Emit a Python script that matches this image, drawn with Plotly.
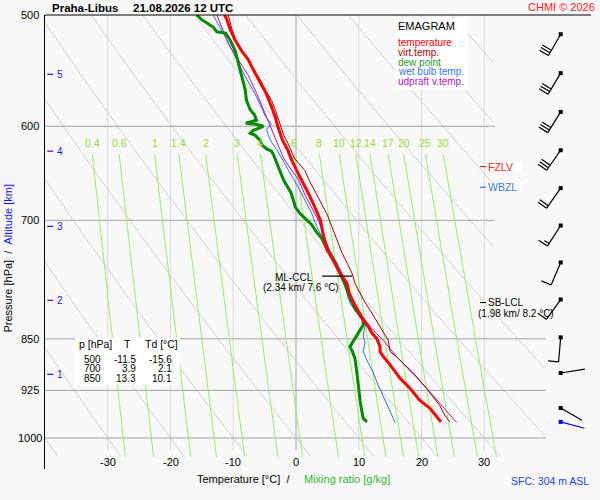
import numpy as np
import plotly.graph_objects as go

# ---------------- data ----------------
STATION = "Praha-Libus"
DATE_STR = "21.08.2026 12 UTC"

TEMP_P = [500, 504, 512, 521, 530, 538, 547, 558, 568, 578, 591, 600, 613, 624, 634, 645, 655,
          666, 681, 700, 719, 735, 747, 763, 776, 789, 800, 811, 824, 833, 842, 850, 861, 868,
          875, 887, 907, 922, 940, 952, 970, 974]
TEMP_C = [-11.4, -11.0, -10.5, -9.7, -8.7, -7.6, -6.8, -5.7, -4.8, -4.1, -3.3, -2.9, -2.2, -1.3,
          -0.7, 0.1, 0.9, 1.7, 2.75, 3.9, 4.4, 5.0, 5.9, 7.0, 8.1, 8.5, 9.1, 9.9, 10.7, 11.5,
          12.1, 12.9, 13.4, 13.4, 13.9, 15.0, 16.6, 18.2, 19.7, 21.3, 22.9, 23.1]

VIRT_P = [500, 512, 524, 535, 545, 556, 565, 575, 584, 598, 608, 618, 632, 645, 657, 671, 681,
          694, 707, 722, 738, 750, 763, 776, 789, 798, 811, 826, 839, 852, 868, 875, 890, 905,
          922, 936, 948, 963, 974]
VIRT_C = [-10.8, -10.2, -9.4, -8.1, -7.0, -5.7, -4.9, -3.9, -3.3, -2.5, -2.0, -1.2, -0.3, 1.4,
          2.2, 3.3, 4.1, 5.0, 5.7, 6.5, 7.3, 8.1, 8.9, 9.4, 10.2, 10.8, 11.8, 12.9, 13.9, 14.7,
          15.0, 16.0, 17.6, 19.2, 20.8, 21.9, 22.9, 23.7, 24.5]

DEW_P = [500, 504, 510, 514, 515, 521, 530, 541, 553, 565, 575, 584, 589, 594, 597, 598, 600,
         604, 607, 609, 614, 619, 623, 625, 630, 635, 646, 655, 661, 669, 678, 685, 692, 700,
         705, 714, 721, 735, 739, 750, 763, 776, 795, 809, 818, 824, 831, 838, 845, 852, 861,
         868, 878, 898, 917, 940, 957, 968, 974]
DEW_C = [-15.8, -15.0, -13.2, -12.6, -11.2, -10.5, -9.7, -9.2, -8.7, -8.1, -7.9, -7.3, -6.6,
         -6.3, -8.0, -6.3, -5.2, -6.8, -7.3, -6.5, -5.7, -5.4, -4.6, -3.9, -3.5, -3.2, -2.6,
         -2.0, -1.5, -0.8, -0.4, -0.1, 0.6, 1.7, 2.5, 3.3, 4.1, 5.0, 5.4, 6.2, 7.0, 7.8, 8.6,
         9.4, 10.2, 10.7, 10.7, 10.2, 9.7, 9.1, 8.6, 9.0, 9.4, 9.7, 9.9, 10.2, 10.5, 10.7, 11.3]

WETB_P = [500, 510, 521, 532, 544, 556, 568, 580, 590, 598, 603, 609, 616, 623, 632, 641, 651,
          666, 681, 692, 707, 719, 729, 739, 750, 763, 781, 795, 803, 816, 826, 833, 846, 855,
          868, 884, 898, 917, 940, 955, 968, 975]
WETB_C = [-13.2, -12.1, -11.0, -10.0, -8.9, -7.8, -6.6, -5.7, -4.9, -3.9, -4.7, -4.4, -3.9,
          -3.1, -2.3, -1.6, -0.7, 0.6, 1.7, 2.5, 3.3, 4.1, 4.9, 5.7, 6.5, 7.3, 7.8, 8.3, 8.7,
          9.9, 10.7, 11.0, 10.7, 11.0, 10.7, 11.5, 12.3, 13.1, 14.2, 15.0, 15.5, 15.8]

UPD_P = [500, 524, 538, 552, 568, 584, 600, 616, 632, 641, 655, 671, 685, 700, 715, 729, 743,
         757, 772, 786, 797, 818, 835, 852, 875, 899, 927, 953, 975]
UPD_C = [-12.6, -10.8, -9.2, -7.6, -6.3, -5.2, -4.1, -3.1, -2.0, -1.1, 0.4, 1.4, 2.5, 3.55,
         4.35, 5.0, 5.7, 6.5, 7.3, 8.1, 8.9, 10.5, 12.0, 13.9, 16.0, 18.7, 21.3, 23.7, 25.6]

WIND_P = [516, 550, 586, 624, 664, 706, 750, 797, 848, 899, 952]
WIND_DIR = [210, 211, 212, 215, 215, 213, 203, 216, 185, 81, 120]
WIND_KT = [30, 30, 30, 30, 20, 15, 10, 10, 10, 2, 3]
SFC_WIND_P = [974]
SFC_WIND_DIR = [105]
SFC_WIND_KT = [3]

P_TICKS = [500, 600, 700, 850, 925, 1000]
P_LEVELS = [600, 700, 850, 925, 1000]
T_TICKS = [-30, -20, -10, 0, 10, 20, 30]
ISOTHERMS = [-30, -20, -10, 0, 10, 20, 30]
DRY_ADIABATS_C = list(range(-40, 130, 10))
MIX_RATIOS = [0.4, 0.6, 1, 1.4, 2, 3, 4, 6, 8, 10, 12, 14, 17, 20, 25, 30]
MIX_LABELS = ["0.4", "0.6", "1", "1.4", "2", "3", "4", "6", "8", "10", "12", "14", "17",
              "20", "25", "30"]
ALT_KM = [1, 2, 3, 4, 5]
ALT_P = [901, 798, 707, 625, 551]

TABLE_P = [500, 700, 850]
TABLE_T = [-11.5, 3.9, 13.3]
TABLE_TD = [-15.6, 2.1, 10.1]

FZLV_P = 641
WBZL_P = 663
CCL_P = 767
CCL_KM, CCL_T = 2.34, 7.6
SBLCL_P = 801
SBLCL_KM, SBLCL_T = 1.98, 8.2
SFC_M = 304

LEGEND_NAMES = ["temperature", "virt.temp.", "dew point", "wet bulb temp.", "udpraft v.temp."]

# ---------------- styling / geometry ----------------
FONT = "Arial, Liberation Sans, sans-serif"
BG = "#f8f8f8"
C_T = "#ff0000"
C_TV = "#a00000"
C_TD = "#008a00"
C_TW = "#2f6fe8"
C_UP = "#a818b8"
C_ALT = "#1515ee"
C_MIX = "#99ee66"
C_MIXLAB = "#9ad83a"
LEGEND_COLORS = [C_T, C_TV, "#1e9a1e", "#3377ee", C_UP]

W, H = 600, 500
ML, MR, MT, MB = 45, 9, 15, 31
PW, PH = W - ML - MR, H - MT - MB
T_MIN = -40.0
PX_PER_DEG = 6.275
T_MAX = T_MIN + PW / PX_PER_DEG
P_TOP = 500.0
PX_PER_DEC = 423 / np.log10(2.0)
P_BOT = P_TOP * 10 ** (PH / PX_PER_DEC)


def T2px(t):
    return ML + (t - T_MIN) * PX_PER_DEG


def px2T(x):
    return T_MIN + (x - ML) / PX_PER_DEG


def p2py(p):
    return MT + np.log10(p / P_TOP) * PX_PER_DEC


def py2p(y):
    return P_TOP * 10 ** ((y - MT) / PX_PER_DEC)


def xp(x):
    return (x - ML) / PW


def yp(y):
    return (H - MB - y) / PH


def t_clip(p):
    return 31.7 if p < 812 else 39.8


def td_from_w(w, p):
    e = w * p / (622.0 + w)
    l = np.log(e / 6.112)
    return 243.5 * l / (17.67 - l)


fig = go.Figure()


def line(x, y, color, width=1.0, **kw):
    fig.add_trace(go.Scatter(x=x, y=y, mode="lines", line=dict(color=color, width=width),
                             hoverinfo="skip", showlegend=False, **kw))


# ---- background grid ----
for t in ISOTHERMS:
    line([t, t], [P_TOP, 1020], "#a3a3a3" if t == 0 else "#d9d9d9", 1)

pp = np.arange(500.0, 1031.0, 2.0)
for th in DRY_ADIABATS_C:
    tt = (th + 273.15) * (pp / 1000.0) ** 0.2857 - 273.15
    xs = [float(a) if (a <= t_clip(b) and a >= T_MIN - 2) else None for a, b in zip(tt, pp)]
    line(xs, list(pp), "#d2d2d2", 1)

for p in P_LEVELS:
    line([T_MIN, t_clip(p)], [p, p], "#a3a3a3", 1)

pm = np.linspace(628.0, 1031.0, 40)
for w in MIX_RATIOS:
    line([float(td_from_w(w, p)) for p in pm], list(pm), C_MIX, 1)

# ---- profiles ----
line(WETB_C, WETB_P, C_TW, 1)
line(UPD_C, UPD_P, C_UP, 1)
line(VIRT_C, VIRT_P, C_TV, 1)
line(DEW_C, DEW_P, C_TD, 3)
line(TEMP_C, TEMP_P, C_T, 3)

# ---- altitude ticks ----
for p in ALT_P:
    line([px2T(47.3), px2T(53.3)], [p, p], C_ALT, 1.2)

# ---- level markers ----
line([px2T(480), px2T(486)], [FZLV_P, FZLV_P], "#ff2020", 1.2)
line([px2T(480), px2T(486)], [WBZL_P, WBZL_P], "#3377ee", 1.2)
line([px2T(480), px2T(486)], [SBLCL_P, SBLCL_P], "black", 1)
line([px2T(322), px2T(352)], [CCL_P, CCL_P], "black", 1.2)

# ---- wind barbs ----
BARB_X = 560.7
SHAFT = 24.5
FULL, HALF, STEP = 10.5, 5.5, 3.0


def barbs(plist, dlist, slist, color):
    xs, ys, dx, dy = [], [], [], []
    for p, d, s in zip(plist, dlist, slist):
        ax, ay = BARB_X, p2py(p)
        ux, uy = np.sin(np.radians(d)), -np.cos(np.radians(d))
        bx, by = -uy, ux
        ex, ey = ax + SHAFT * ux, ay + SHAFT * uy
        segs = [((ax, ay), (ex, ey))]
        nfull = int(s // 10)
        half = (s % 10) >= 5
        k = 0
        for i in range(nfull):
            sx, sy = ex - k * STEP * ux, ey - k * STEP * uy
            segs.append(((sx, sy), (sx + FULL * bx, sy + FULL * by)))
            k += 1
        if half:
            sx, sy = ex - k * STEP * ux, ey - k * STEP * uy
            segs.append(((sx, sy), (sx + HALF * bx, sy + HALF * by)))
        for (x0, y0), (x1, y1) in segs:
            xs += [px2T(x0), px2T(x1), None]
            ys += [py2p(y0), py2p(y1), None]
        dx.append(px2T(ax))
        dy.append(p)
    line(xs, ys, color, 1.2)
    fig.add_trace(go.Scatter(x=dx, y=dy, mode="markers",
                             marker=dict(symbol="square", size=4, color=color),
                             hoverinfo="skip", showlegend=False))


barbs(WIND_P, WIND_DIR, WIND_KT, "black")
barbs(SFC_WIND_P, SFC_WIND_DIR, SFC_WIND_KT, "#0000ee")

# ---- annotations ----


def ann(x, y, text, size=11, color="black", xa="center", ya="middle", xref="paper",
        yref="paper", **kw):
    fig.add_annotation(x=x, y=y, xref=xref, yref=yref, text=text, showarrow=False,
                       font=dict(family=FONT, size=size, color=color), xanchor=xa,
                       yanchor=ya, borderpad=0, **kw)


ann(xp(50.5), yp(7.5), "<b>%s</b>" % STATION, 11.5, xa="left")
ann(xp(131.5), yp(7.5), "<b>%s</b>" % DATE_STR, 11.5, xa="left")
ann(xp(596), yp(7), "CHMI © 2026", 11, "#ff2020", xa="right")

for p in P_TICKS:
    ann(xp(30), np.log10(p), str(p), 11, yref="y")
for t in T_TICKS:
    ann(t, yp(462), str(t), 11, xref="x")
for km, p in zip(ALT_KM, ALT_P):
    ann(xp(59.5), np.log10(p), str(km), 10, C_ALT, yref="y")

for w, lab in zip(MIX_RATIOS, MIX_LABELS):
    ann(float(td_from_w(w, 628.0)), np.log10(py2p(143)), lab, 10.5, C_MIXLAB,
        xref="x", yref="y")

ann(xp(8), yp(258.6),
    "Pressure [hPa]\u00a0\u00a0/\u00a0\u00a0<span style='color:%s'>Altitude [km]</span>" % C_ALT,
    11, textangle=-90)
ann(xp(291), yp(479.5), "Temperature [°C]\u00a0\u00a0/", 11, xa="right")
ann(xp(302.5), yp(479.5), "Mixing ratio [g/kg]", 11, "#33b533", xa="left")
ann(xp(589.5), yp(481), "SFC: %d m ASL" % SFC_M, 10.5, "#2040e0", xa="right")

# legend box content
ann(xp(397.3), yp(26), "EMAGRAM", 11, xa="left")
for i, (name, col) in enumerate(zip(LEGEND_NAMES, LEGEND_COLORS)):
    ann(xp(397.3), yp(42.3 + 9.9 * i), name, 10, col, xa="left")

# table
ann(xp(78.3), yp(344), "p [hPa]", 10.5, xa="left")
ann(xp(127.7), yp(344), "T", 10.5)
ann(xp(144), yp(344), "Td [°C]", 10.5, xa="left")
for i, (p, t, td) in enumerate(zip(TABLE_P, TABLE_T, TABLE_TD)):
    y = 359 + 9.7 * i
    ann(xp(101.7), yp(y), str(p), 10, xa="right")
    ann(xp(137.3), yp(y), "%.1f" % t, 10, xa="right")
    ann(xp(173.3), yp(y), "%.1f" % td, 10, xa="right")

# level labels
ann(xp(487.3), np.log10(FZLV_P), "FZLV", 10.5, "#ff2020", xa="left", yref="y")
ann(xp(487.3), np.log10(WBZL_P), "WBZL", 10.5, "#3377ee", xa="left", yref="y")
ann(xp(313.5), yp(277.3), "ML-CCL", 10, xa="right")
ann(xp(301), yp(287.5), "(%.2f km/ %.1f °C)" % (CCL_KM, CCL_T), 10)
ann(xp(487.3), np.log10(SBLCL_P), "SB-LCL", 10, xa="left", yref="y")
ann(xp(516), yp(313.5), "(%.2f km/ %.1f °C)" % (SBLCL_KM, SBLCL_T), 10)

# ---- shapes: frame and white boxes ----
shapes = [
    dict(type="line", xref="paper", yref="paper", x0=0, x1=1, y0=1, y1=1,
         line=dict(color="black", width=1), layer="above"),
    dict(type="rect", xref="paper", yref="paper", x0=xp(395), x1=xp(468), y0=yp(90),
         y1=yp(18), fillcolor="white", line=dict(width=0), layer="above"),
    dict(type="rect", xref="paper", yref="paper", x0=xp(75), x1=xp(180), y0=yp(385),
         y1=yp(337.5), fillcolor="white", line=dict(width=0), layer="above"),
    dict(type="rect", xref="paper", yref="paper", x0=xp(486.7), x1=xp(522.3),
         y0=yp(p2py(FZLV_P) + 4.8), y1=yp(p2py(FZLV_P) - 4.8), fillcolor="white",
         line=dict(width=0), layer="above"),
    dict(type="rect", xref="paper", yref="paper", x0=xp(486.7), x1=xp(522.3),
         y0=yp(p2py(WBZL_P) + 4.8), y1=yp(p2py(WBZL_P) - 4.8), fillcolor="white",
         line=dict(width=0), layer="above"),
]

fig.update_layout(
    width=W, height=H,
    margin=dict(l=ML, r=MR, t=MT, b=MB, pad=0),
    paper_bgcolor=BG, plot_bgcolor=BG,
    showlegend=False,
    shapes=shapes,
    font=dict(family=FONT, size=11, color="black"),
    xaxis=dict(range=[T_MIN, T_MAX], showgrid=False, zeroline=False, showticklabels=False,
               showline=False, ticks="", fixedrange=True),
    yaxis=dict(type="log", range=[np.log10(P_BOT), np.log10(P_TOP)], showgrid=False,
               zeroline=False, showticklabels=False, showline=True, linecolor="black",
               linewidth=1, ticks="", fixedrange=True),
)

fig.write_html(
    "out.html",
    config={"displayModeBar": False},
    post_script="document.body.style.margin='0px';document.body.style.overflow='hidden';"
                "document.body.style.background='%s';" % BG,
)
